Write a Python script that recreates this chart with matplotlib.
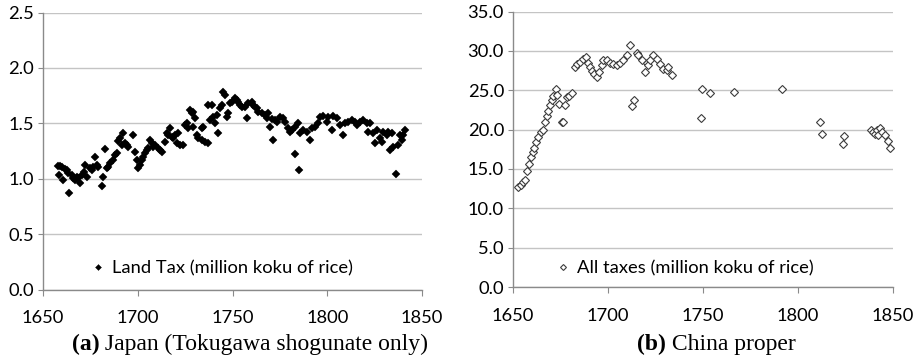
import matplotlib
matplotlib.use("Agg")
import matplotlib.pyplot as plt

# Japan: land tax (million koku of rice)
jp_years = [1657.7, 1659.0, 1659.9, 1658.4, 1660.7, 1661.6, 1662.5, 1663.9, 1663.4, 1665.1,
            1666.0, 1666.9, 1667.8, 1668.7, 1669.5, 1670.4, 1671.8, 1672.2, 1673.0, 1674.8,
            1675.7, 1676.6, 1677.4, 1678.3, 1679.2, 1681.0, 1681.8, 1682.7, 1683.6, 1684.5,
            1685.4, 1687.1, 1688.0, 1688.9, 1689.8, 1690.6, 1692.4, 1691.5, 1693.3, 1694.2,
            1695.0, 1697.7, 1698.6, 1699.4, 1700.3, 1701.2, 1702.1, 1703.0, 1703.8, 1704.7,
            1705.6, 1706.5, 1707.4, 1708.2, 1709.1, 1710.9, 1711.8, 1712.6, 1714.4, 1715.3,
            1716.1, 1717.0, 1717.9, 1718.8,
            1719.7, 1721.4, 1720.5, 1722.3, 1724.1, 1724.9, 1725.8, 1726.7, 1727.6, 1728.5,
            1729.3, 1730.2, 1729.3, 1731.1, 1732.0, 1733.7, 1734.6, 1733.7, 1735.5, 1737.3,
            1737.3, 1739.0, 1738.1, 1739.9, 1740.8, 1741.6, 1742.5, 1743.4, 1744.3, 1745.2,
            1746.0, 1746.9, 1747.8, 1748.7, 1749.6, 1751.3, 1752.2, 1753.1, 1754.0, 1754.8,
            1756.6, 1757.5, 1758.4, 1760.1, 1761.0, 1761.9, 1762.8, 1763.6, 1765.4, 1767.2,
            1768.0, 1768.9, 1769.8, 1770.7, 1771.6, 1772.4, 1773.3, 1775.1, 1776.8, 1777.7,
            1779.5, 1780.3, 1781.2, 1783.0, 1784.7, 1783.0, 1785.3,
            1785.6, 1787.4, 1789.1, 1790.9, 1791.8, 1793.5, 1795.3, 1796.2, 1798.0, 1799.7,
            1800.6, 1802.3, 1803.2, 1805.0, 1806.7, 1808.5, 1809.4, 1811.1, 1812.9, 1814.6,
            1815.5, 1817.3, 1819.0, 1820.8, 1822.6, 1821.7, 1824.3, 1825.2, 1826.1, 1827.8,
            1828.7, 1829.6, 1831.4, 1832.2, 1833.1, 1834.0, 1834.9, 1836.3, 1837.5, 1838.4,
            1839.3, 1840.2, 1841.0]
jp_tax = [1.115, 1.115, 1.103, 1.034, 0.989, 1.085, 1.079, 0.874, 1.049, 1.034,
          1.004, 0.989, 1.019, 1.004, 0.958, 1.034, 1.064, 1.124, 1.019, 1.094,
          1.079, 1.109, 1.193, 1.124, 1.109, 0.935, 1.019, 1.268, 1.094, 1.109,
          1.139, 1.169, 1.214, 1.235, 1.344, 1.365, 1.410, 1.304, 1.320, 1.304,
          1.289, 1.395, 1.244, 1.169, 1.094, 1.124, 1.169, 1.199, 1.229, 1.259,
          1.274, 1.350, 1.320, 1.289, 1.304, 1.274, 1.259, 1.244, 1.335, 1.410,
          1.395, 1.455, 1.380, 1.365,
          1.395, 1.410, 1.320, 1.304, 1.304, 1.485, 1.500, 1.455, 1.620, 1.590,
          1.605, 1.545, 1.470, 1.395, 1.365, 1.455, 1.470, 1.350, 1.335, 1.325,
          1.665, 1.665, 1.530, 1.560, 1.500, 1.575, 1.416, 1.635, 1.665, 1.786,
          1.756, 1.560, 1.590, 1.680, 1.695, 1.726, 1.710, 1.695, 1.665, 1.650,
          1.650, 1.545, 1.680, 1.695, 1.665, 1.650, 1.635, 1.605, 1.590, 1.575,
          1.545, 1.590, 1.470, 1.536, 1.350, 1.530, 1.515, 1.560, 1.545, 1.515,
          1.455, 1.425, 1.440, 1.470, 1.500, 1.223, 1.079,
          1.410, 1.440, 1.425, 1.350, 1.455, 1.470, 1.500, 1.560, 1.566, 1.515,
          1.560, 1.440, 1.566, 1.545, 1.485, 1.395, 1.500, 1.515, 1.530, 1.515,
          1.485, 1.515, 1.530, 1.500, 1.500, 1.425, 1.410, 1.320, 1.440, 1.365,
          1.335, 1.425, 1.395, 1.425, 1.259, 1.410, 1.289, 1.040, 1.304, 1.395,
          1.350, 1.395, 1.440]

# China proper: all taxes (million koku of rice)
cn_years = [1652.8, 1654.0, 1655.4, 1656.3, 1657.5, 1658.6, 1659.3, 1660.3, 1661.1, 1662.1,
            1663.3, 1664.6, 1666.0, 1666.8, 1667.7, 1668.6, 1669.5, 1670.3, 1671.2, 1672.6,
            1673.0, 1674.4, 1675.6, 1676.1, 1677.4, 1678.2, 1679.6, 1680.9, 1682.6, 1683.5,
            1685.3, 1687.0, 1688.4, 1689.6, 1690.5, 1691.4, 1692.6, 1694.0, 1695.4, 1696.7,
            1697.5, 1699.3, 1701.0, 1702.8, 1704.5, 1706.3, 1708.1, 1709.8, 1711.6, 1712.4,
            1713.7, 1715.1, 1716.0, 1717.7, 1719.5, 1720.3, 1721.2, 1722.1, 1723.9, 1725.6,
            1727.4, 1729.1, 1730.9, 1731.8, 1733.5, 1748.8, 1749.3, 1753.7, 1766.5, 1791.4,
            1811.6, 1812.5, 1823.9, 1824.4, 1838.4, 1839.6, 1840.5, 1841.4, 1842.3, 1843.1,
            1844.0, 1845.8, 1847.2, 1848.4]
cn_tax = [12.7, 13.0, 13.3, 13.6, 14.8, 15.6, 16.5, 17.1, 17.7, 18.4,
          19.0, 19.7, 19.9, 20.9, 21.7, 22.4, 23.1, 23.7, 24.3, 25.1,
          24.4, 23.2, 20.9, 20.9, 23.1, 24.1, 24.3, 24.6, 28.0, 28.3,
          28.6, 29.0, 29.2, 28.4, 28.0, 27.5, 27.1, 26.7, 27.3, 28.2,
          28.8, 28.8, 28.5, 28.3, 28.2, 28.4, 28.8, 29.5, 30.7, 23.0,
          23.8, 29.7, 29.45, 28.8, 27.3, 28.4, 28.2, 28.8, 29.5, 29.0,
          28.3, 27.75, 27.6, 27.9, 26.9, 21.5, 25.2, 24.6, 24.8, 25.1,
          20.95, 19.5, 18.2, 19.2, 19.97, 19.67, 19.46, 19.9, 19.25, 20.2,
          19.67, 19.25, 18.6, 17.7]

year_ticks = [1650, 1700, 1750, 1800, 1850]
jp_ticks = [0.0, 0.5, 1.0, 1.5, 2.0, 2.5]
cn_ticks = [0.0, 5.0, 10.0, 15.0, 20.0, 25.0, 30.0, 35.0]

plt.rcParams['font.family'] = ['Lato', 'DejaVu Sans']
plt.rcParams['font.size'] = 13.2

fig = plt.figure(figsize=(9.2, 3.62), dpi=100)
ax1 = fig.add_axes([43 / 920, 1 - 289.5 / 362, 379 / 920, 277 / 362])
ax2 = fig.add_axes([513 / 920, 1 - 287 / 362, 380 / 920, 275.5 / 362])


def style(ax, ticks):
    ax.set_xlim(1650, 1850)
    ax.set_ylim(ticks[0], ticks[-1])
    ax.set_xticks(year_ticks)
    ax.set_yticks(ticks)
    ax.set_yticklabels(['%.1f' % t for t in ticks])
    ax.grid(axis='y', color='#c4c4c4', lw=1.0)
    ax.set_axisbelow(True)
    for s in ['top', 'right']:
        ax.spines[s].set_visible(False)
    for s in ['left', 'bottom']:
        ax.spines[s].set_color('#8a8a8a')
        ax.spines[s].set_linewidth(1.0)
    ax.tick_params(axis='x', direction='out', length=4, color='#8a8a8a', pad=11)
    ax.tick_params(axis='y', direction='out', length=3.5, color='#8a8a8a', pad=3)


style(ax1, jp_ticks)
style(ax2, cn_ticks)

ax1.plot(jp_years, jp_tax, ls='none', marker='D', ms=4.3, mfc='black', mec='black', mew=0.3,
         label='Land Tax (million koku of rice)', clip_on=False)
ax2.plot(cn_years, cn_tax, ls='none', marker='D', ms=4.3, mfc='white', mec='#3c3c3c', mew=0.8,
         label='All taxes (million koku of rice)', clip_on=False)

for ax, bx, by in [(ax1, 0.13, 0.078), (ax2, 0.118, 0.069)]:
    leg = ax.legend(loc='center left', bbox_to_anchor=(bx, by), frameon=False, borderpad=0,
                    borderaxespad=0, handlelength=0.6, handletextpad=0.45, markerscale=0.7)

# captions: bold panel letter followed by regular text
fig.canvas.draw()
renderer = fig.canvas.get_renderer()
for cx, letter, rest in [(250, '(a)', ' Japan (Tokugawa shogunate only)'),
                         (716, '(b)', ' China proper')]:
    t1 = fig.text(0, 0, letter, family='Liberation Serif', weight='bold', size=17,
                  va='baseline', ha='left')
    t2 = fig.text(0, 0, rest, family='Liberation Serif', size=17, va='baseline', ha='left')
    w1 = t1.get_window_extent(renderer).width
    w2 = t2.get_window_extent(renderer).width
    x0 = cx - (w1 + w2) / 2
    t1.set_position((x0 / 920, 1 - 350 / 362))
    t2.set_position(((x0 + w1) / 920, 1 - 350 / 362))

fig.savefig('out.png', dpi=100)
